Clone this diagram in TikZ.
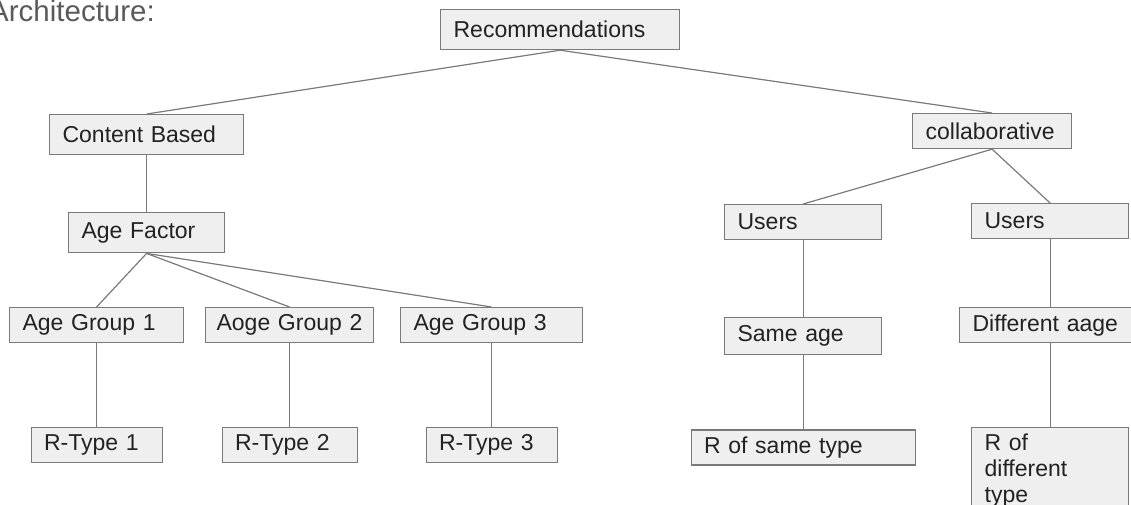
\documentclass[tikz,border=0pt]{standalone}
\usepackage{fontspec}
\setmainfont{Liberation Sans}
\usetikzlibrary{positioning}
\definecolor{boxfill}{RGB}{239,239,239}
\definecolor{boxline}{RGB}{122,122,122}
\definecolor{txt}{RGB}{34,34,34}
\definecolor{headtxt}{RGB}{90,90,90}
\tikzset{
  box/.style  ={rectangle, draw=boxline, fill=boxfill, line width=1.2pt,
                anchor=north west, align=left, inner xsep=13pt, inner ysep=4pt,
                minimum height=35pt, text=txt, font=\fontsize{23}{26}\selectfont},
  link/.style ={draw=boxline, line width=1.2pt},
  head/.style ={anchor=base west, inner sep=0pt, text=headtxt,
                font=\fontsize{29.5}{34}\selectfont},
}

\begin{document}
\begin{tikzpicture}[x=1pt, y=-1pt]
    \useasboundingbox (0,0) rectangle (1131,504);

    % nodes
    \node[head] (title) at (-11,21) {Architecture:};
    \node[box, text width=213pt, minimum height=40pt] (rec) at (440,9) {Recommendations};
    \node[box, text width=168pt, minimum height=40pt] (cb) at (49,114) {Content Based};
    \node[box, text width=133pt] (collab) at (912,113) {collaborative};

    \node[box, text width=130pt, minimum height=40pt, below=57pt of cb] (age) {Age Factor};
    \node[box, text width=148pt] (grp1) at (9,307) {Age Group 1};
    \node[box, text width=146pt, inner xsep=11pt] (grp2) at (205,307) {Aoge Group 2};
    \node[box, text width=156pt] (grp3) at (400,307) {Age Group 3};
    \node[box, text width=105pt, below=84pt of grp1] (rt1) {R-Type 1};
    \node[box, text width=109pt, below=84pt of grp2] (rt2) {R-Type 2};
    \node[box, text width=105pt, below=84pt of grp3] (rt3) {R-Type 3};

    \node[box, text width=131pt] (usr1) at (724,204) {Users};
    \node[box, text width=131pt] (usr2) at (971,203) {Users};
    \node[box, text width=131pt, minimum height=37pt, below=77pt of usr1] (same) {Same age};
    \node[box, text width=198pt, below=74pt of same] (rsame) {R of same type};
    \node[box, text width=146pt] (diff) at (959,307) {Different aage};
    \node[box, text width=131pt, inner ysep=6pt] (rdiff) at (971,427) {R of\\different\\type};

    % links
    \draw[link] (rec.south) -- (cb.north);
    \draw[link] (rec.south) -- (collab.north);
    \draw[link] (cb.south) -- (age.north);
    \draw[link] (age.south) -- (grp1.north);
    \draw[link] (age.south) -- (grp2.north);
    \draw[link] (age.south) -- (grp3.north);
    \draw[link] (grp1.south) -- (rt1.north);
    \draw[link] (grp2.south) -- (rt2.north);
    \draw[link] (grp3.south) -- (rt3.north);
    \draw[link] (collab.south) -- (usr1.north);
    \draw[link] (collab.south) -- (usr2.north);
    \draw[link] (usr1.south) -- (same.north);
    \draw[link] (same.south) -- (rsame.north);
    \draw[link] (usr2.south) -- (usr2.south |- diff.north);
    \draw[link] (rdiff.north |- diff.south) -- (rdiff.north);
\end{tikzpicture}
\end{document}
